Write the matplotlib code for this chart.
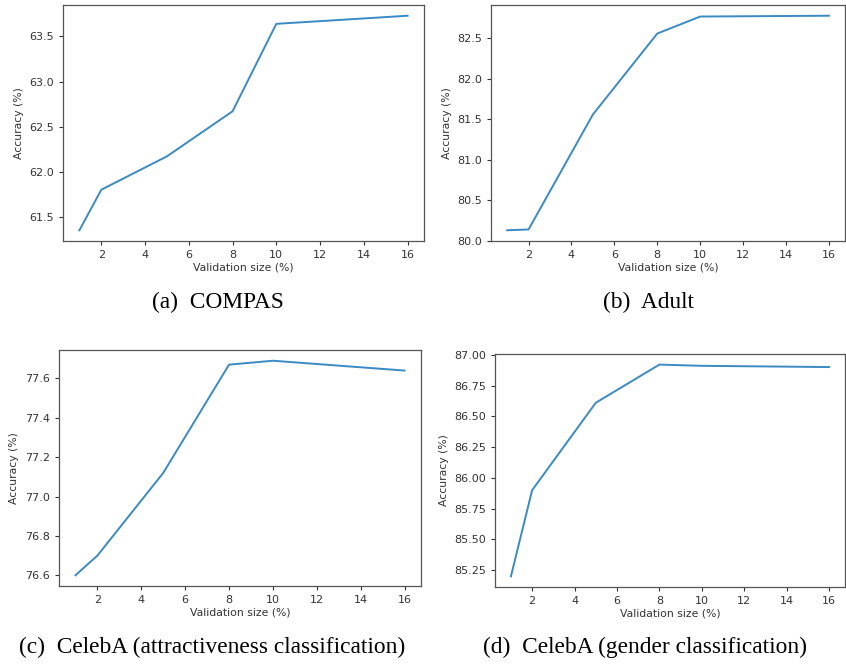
import numpy as np
import matplotlib
matplotlib.use("Agg")
import matplotlib.pyplot as plt

# validation sizes (%)
val_size = [1, 2, 5, 8, 10, 16]

# accuracy (%) per dataset
acc_compas = [61.35, 61.80, 62.17, 62.67, 63.64, 63.73]
acc_adult = [80.13, 80.14, 81.56, 82.56, 82.77, 82.78]
acc_celeba_attr = [76.60, 76.70, 77.12, 77.67, 77.69, 77.64]
acc_celeba_gender = [85.20, 85.90, 86.61, 86.92, 86.91, 86.90]

captions = ["(a)  COMPAS", "(b)  Adult",
            "(c)  CelebA (attractiveness classification)",
            "(d)  CelebA (gender classification)"]

W, H = 846, 664
fig = plt.figure(figsize=(W / 100, H / 100), dpi=100)

# axes boxes in pixels: left, top, right, bottom
boxes = [(63, 5, 424, 241), (491, 5, 845, 241),
         (59, 350, 421, 586), (495, 354, 845, 587)]
series = [acc_compas, acc_adult, acc_celeba_attr, acc_celeba_gender]
cap_pos = [(218, 302), (648, 302), (212, 647), (645, 647)]

for box, acc, cap, cp in zip(boxes, series, captions, cap_pos):
    l, t, r, b = box
    ax = fig.add_axes([l / W, 1 - b / H, (r - l) / W, (b - t) / H])
    ax.plot(val_size, acc, color="#3a8ac3", linewidth=1.4)
    ax.set_xticks([2, 4, 6, 8, 10, 12, 14, 16])
    ax.tick_params(labelsize=8, colors="#333333", length=3)
    for s in ax.spines.values():
        s.set_color("#555555")
        s.set_linewidth(0.9)
    ax.set_xlabel("Validation size (%)", fontsize=7.8, color="#333333", labelpad=2)
    ax.set_ylabel("Accuracy (%)", fontsize=7.8, color="#333333", labelpad=4)
    fig.text(cp[0] / W, 1 - cp[1] / H, cap, ha="center", va="center",
             fontsize=16.8, family="Liberation Serif")

fig.savefig("out.png", dpi=100)
